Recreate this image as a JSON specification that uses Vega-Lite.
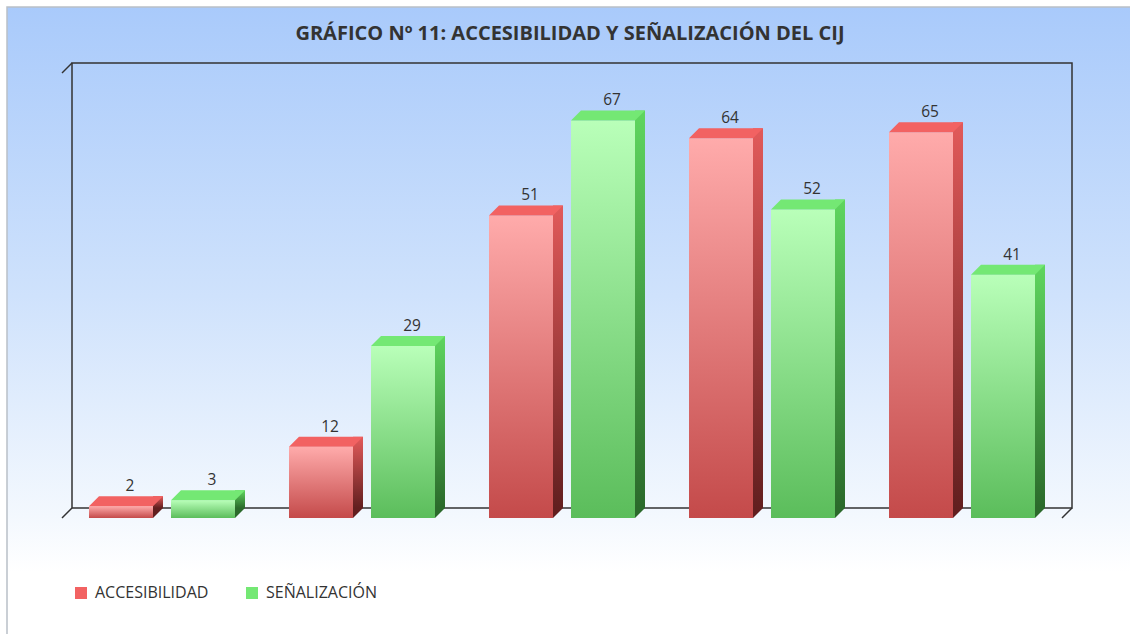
{
  "$schema": "https://vega.github.io/schema/vega-lite/v6.json",
  "autosize": {"type": "none"},
  "padding": {"left": 7, "top": 7, "right": 0, "bottom": 0},
  "width": 1124,
  "height": 628,
  "background": "#ffffff",
  "title": {
    "text": "GRÁFICO Nº 11: ACCESIBILIDAD Y SEÑALIZACIÓN DEL CIJ",
    "font": "Open Sans",
    "fontSize": 20,
    "fontWeight": "bold",
    "color": "#333333",
    "anchor": "middle",
    "frame": "group",
    "dx": 1,
    "dy": 61,
    "offset": 24
  },
  "config": {
    "view": {
      "stroke": "#b9c0c8",
      "strokeWidth": 1.5,
      "fill": {
        "gradient": "linear", "x1": 0, "y1": 0, "x2": 0, "y2": 1,
        "stops": [
          {"offset": 0, "color": "#a9cafb"},
          {"offset": 0.46, "color": "#cfe2fc"},
          {"offset": 0.81, "color": "#f3f8fe"},
          {"offset": 0.9, "color": "#ffffff"},
          {"offset": 1, "color": "#ffffff"}
        ]
      }
    },
    "axis": {
      "labelFont": "Open Sans",
      "labelFontSize": 15.5,
      "labelColor": "#333333",
      "domainColor": "#333333",
      "domainWidth": 1.5,
      "ticks": false,
      "grid": false,
      "title": null
    },
    "legend": {
      "labelFont": "Open Sans",
      "labelFontSize": 16,
      "labelColor": "#333333"
    }
  },
  "datasets": {
    "frame": [{"a": "MAL", "b": "EXCELENTE", "t": 75, "u": 0}]
  },
  "data": {
    "values": [
      {"cat": "MAL", "serie": "ACCESIBILIDAD", "v": 2},
      {"cat": "MAL", "serie": "SEÑALIZACIÓN", "v": 3},
      {"cat": "REGULAR", "serie": "ACCESIBILIDAD", "v": 12},
      {"cat": "REGULAR", "serie": "SEÑALIZACIÓN", "v": 29},
      {"cat": "BIEN", "serie": "ACCESIBILIDAD", "v": 51},
      {"cat": "BIEN", "serie": "SEÑALIZACIÓN", "v": 67},
      {"cat": "MUY BIEN", "serie": "ACCESIBILIDAD", "v": 64},
      {"cat": "MUY BIEN", "serie": "SEÑALIZACIÓN", "v": 52},
      {"cat": "EXCELENTE", "serie": "ACCESIBILIDAD", "v": 65},
      {"cat": "EXCELENTE", "serie": "SEÑALIZACIÓN", "v": 41}
    ]
  },
  "encoding": {
    "x": {
      "field": "cat",
      "type": "nominal",
      "scale": {"domain": ["MAL", "REGULAR", "BIEN", "MUY BIEN", "EXCELENTE"], "range": [55, 1055], "paddingInner": 0, "paddingOuter": 0},
      "axis": {"labelAngle": 0, "labelPadding": 10, "labelFontSize": 16, "offset": -117}
    },
    "y": {
      "field": "v",
      "type": "quantitative",
      "scale": {"domain": [0, 75], "range": [511, 66], "nice": false, "zero": true},
      "axis": {"values": [0, 5, 10, 15, 20, 25, 30, 35, 40, 45, 50, 55, 60, 65, 70, 75], "labelPadding": 10, "offset": -55}
    }
  },
  "resolve": {"scale": {"xOffset": "independent"}},
  "layer": [
    {
      "data": {"name": "frame"},
      "mark": {
        "type": "rect",
        "xOffset": 10, "x2Offset": 10, "yOffset": -10, "y2Offset": -10,
        "stroke": "#333333", "strokeWidth": 1.5, "fill": "#ffffff", "fillOpacity": 0
      },
      "encoding": {
        "x": {"field": "a", "type": "nominal", "bandPosition": 0, "axis": null},
        "x2": {"field": "b", "bandPosition": 1},
        "y": {"field": "t", "type": "quantitative", "axis": null},
        "y2": {"field": "u"}
      }
    },
    {
      "data": {"name": "frame"},
      "mark": {"type": "rule", "x2Offset": 10, "y2Offset": -10, "stroke": "#333333", "strokeWidth": 1.5},
      "encoding": {
        "x": {"field": "a", "type": "nominal", "bandPosition": 0, "axis": null},
        "x2": {"field": "a", "bandPosition": 0},
        "y": {"field": "t", "type": "quantitative", "axis": null},
        "y2": {"field": "t"}
      }
    },
    {
      "data": {"name": "frame"},
      "mark": {"type": "rule", "x2Offset": 10, "y2Offset": -10, "stroke": "#333333", "strokeWidth": 1.5},
      "encoding": {
        "x": {"field": "a", "type": "nominal", "bandPosition": 0, "axis": null},
        "x2": {"field": "a", "bandPosition": 0},
        "y": {"field": "u", "type": "quantitative", "axis": null},
        "y2": {"field": "u"}
      }
    },
    {
      "data": {"name": "frame"},
      "mark": {"type": "rule", "x2Offset": 10, "y2Offset": -10, "stroke": "#333333", "strokeWidth": 1.5},
      "encoding": {
        "x": {"field": "b", "type": "nominal", "bandPosition": 1, "axis": null},
        "x2": {"field": "b", "bandPosition": 1},
        "y": {"field": "u", "type": "quantitative", "axis": null},
        "y2": {"field": "u"}
      }
    },
    {
      "transform": [{"filter": "datum.serie === 'ACCESIBILIDAD'"}],
      "mark": {
        "type": "bar",
        "fill": {
          "gradient": "linear", "x1": 0, "y1": 0, "x2": 0, "y2": 1,
          "stops": [{"offset": 0, "color": "#ffabab"}, {"offset": 1, "color": "#c44a4a"}]
        }
      },
      "encoding": {
        "xOffset": {"field": "serie", "type": "nominal", "scale": {"type": "band", "domain": ["ACCESIBILIDAD", "SEÑALIZACIÓN"], "paddingInner": 0.219512, "paddingOuter": 0.329268}}
      }
    },
    {
      "transform": [{"filter": "datum.serie === 'SEÑALIZACIÓN'"}],
      "mark": {
        "type": "bar",
        "fill": {
          "gradient": "linear", "x1": 0, "y1": 0, "x2": 0, "y2": 1,
          "stops": [{"offset": 0, "color": "#b9ffb9"}, {"offset": 1, "color": "#5bbd5b"}]
        }
      },
      "encoding": {
        "xOffset": {"field": "serie", "type": "nominal", "scale": {"type": "band", "domain": ["ACCESIBILIDAD", "SEÑALIZACIÓN"], "paddingInner": 0.219512, "paddingOuter": 0.329268}}
      }
    },
    {
      "transform": [{"filter": "datum.serie === 'ACCESIBILIDAD'"}],
      "mark": {
        "type": "bar", "yOffset": -10, "y2Offset": -10,
        "fill": {
          "gradient": "linear", "x1": 0, "y1": 0, "x2": 0, "y2": 1,
          "stops": [{"offset": 0, "color": "#e25a5a"}, {"offset": 1, "color": "#621f1f"}]
        }
      },
      "encoding": {
        "xOffset": {"field": "serie", "type": "nominal", "scale": {"type": "band", "domain": ["ACCESIBILIDAD", "SEÑALIZACIÓN"], "paddingInner": 0.878049, "paddingOuter": 0.658537, "align": 0.842593}}
      }
    },
    {
      "transform": [{"filter": "datum.serie === 'SEÑALIZACIÓN'"}],
      "mark": {
        "type": "bar", "yOffset": -10, "y2Offset": -10,
        "fill": {
          "gradient": "linear", "x1": 0, "y1": 0, "x2": 0, "y2": 1,
          "stops": [{"offset": 0, "color": "#5fd65f"}, {"offset": 1, "color": "#2b6a2b"}]
        }
      },
      "encoding": {
        "xOffset": {"field": "serie", "type": "nominal", "scale": {"type": "band", "domain": ["ACCESIBILIDAD", "SEÑALIZACIÓN"], "paddingInner": 0.878049, "paddingOuter": 0.658537, "align": 0.842593}}
      }
    },
    {
      "transform": [{"filter": "datum.serie === 'ACCESIBILIDAD'"}],
      "mark": {
        "type": "point", "shape": "M32,0L32,-10L42,-10Z", "size": 4,
        "filled": true, "opacity": 1, "strokeWidth": 0, "fill": "#621f1f"
      },
      "encoding": {
        "y": {"datum": 0, "axis": null},
        "xOffset": {"field": "serie", "type": "nominal", "scale": {"type": "band", "domain": ["ACCESIBILIDAD", "SEÑALIZACIÓN"], "paddingInner": 0.219512, "paddingOuter": 0.329268}}
      }
    },
    {
      "transform": [{"filter": "datum.serie === 'SEÑALIZACIÓN'"}],
      "mark": {
        "type": "point", "shape": "M32,0L32,-10L42,-10Z", "size": 4,
        "filled": true, "opacity": 1, "strokeWidth": 0, "fill": "#2b6a2b"
      },
      "encoding": {
        "y": {"datum": 0, "axis": null},
        "xOffset": {"field": "serie", "type": "nominal", "scale": {"type": "band", "domain": ["ACCESIBILIDAD", "SEÑALIZACIÓN"], "paddingInner": 0.219512, "paddingOuter": 0.329268}}
      }
    },
    {
      "mark": {
        "type": "point", "shape": "M-32,0L32,0L42,-10L-22,-10Z", "size": 4,
        "filled": true, "opacity": 1, "strokeWidth": 0
      },
      "encoding": {
        "xOffset": {"field": "serie", "type": "nominal", "scale": {"type": "band", "domain": ["ACCESIBILIDAD", "SEÑALIZACIÓN"], "paddingInner": 0.219512, "paddingOuter": 0.329268}},
        "color": {
          "field": "serie",
          "type": "nominal",
          "scale": {"domain": ["ACCESIBILIDAD", "SEÑALIZACIÓN"], "range": ["#f26262", "#74e874"]},
          "legend": {
            "title": null,
            "orient": "none",
            "legendX": 66,
            "legendY": 578,
            "direction": "horizontal",
            "symbolType": "square",
            "symbolSize": 144,
            "symbolStrokeWidth": 0,
            "labelOffset": 6,
            "columnPadding": 35
          }
        }
      }
    },
    {
      "mark": {
        "type": "text", "dx": 9, "dy": -15, "baseline": "alphabetic",
        "font": "Open Sans", "fontSize": 15.5, "fill": "#333333"
      },
      "encoding": {
        "xOffset": {"field": "serie", "type": "nominal", "scale": {"type": "band", "domain": ["ACCESIBILIDAD", "SEÑALIZACIÓN"], "paddingInner": 0.219512, "paddingOuter": 0.329268}},
        "text": {"field": "v", "type": "quantitative"}
      }
    }
  ]
}
